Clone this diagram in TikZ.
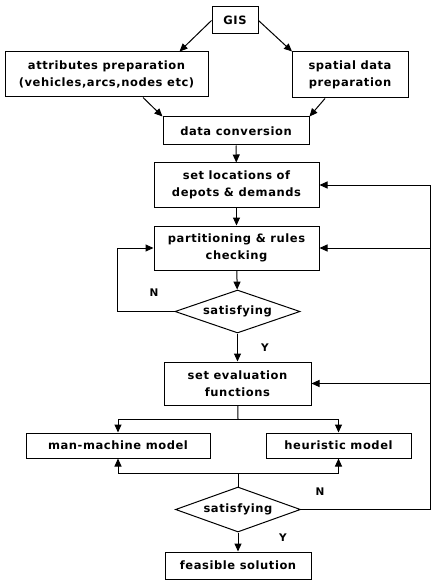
\documentclass[tikz,border=0pt]{standalone}
\usepackage{fontspec}
\setmainfont{DejaVu Sans}[LetterSpace=5]
\usepackage{tikz}
\usetikzlibrary{arrows.meta,positioning,calc,shapes.geometric}

\begin{document}
\begin{tikzpicture}[x=1pt,y=-1pt,>={Triangle[length=8pt,width=7pt]},line width=1pt,
  every node/.style={font=\fontsize{11.5}{16.5}\selectfont\bfseries},
  box/.style={draw,align=center,inner sep=0pt},
  test/.style={draw,diamond,aspect=3,inner sep=0pt,minimum width=125pt,minimum height=43pt},
  lbl/.style={font=\fontsize{10.5}{11}\selectfont\bfseries}]
  \useasboundingbox (0,0) rectangle (436,580);
  % data preparation
  \node[box,minimum width=46pt,minimum height=27pt] (gis) at (235,20.5) {GIS};
  \node[box,minimum width=203pt,minimum height=45pt] (attr) at (106.5,74.5) {attributes preparation\\(vehicles,arcs,nodes etc)};
  \node[box,minimum width=116pt,minimum height=46pt] (spat) at (350,75) {spatial data\\preparation};
  \node[box,minimum width=146pt,minimum height=28pt] (conv) at (236,131) {data conversion};
  % partitioning
  \node[box,minimum width=165pt,minimum height=44pt] (loc) at (236.5,185) {set locations of\\depots \& demands};
  \node[box,minimum width=165pt,minimum height=44pt] (part) at (236.5,248) {partitioning \& rules\\checking};
  \node[test] (sat1) at (237.5,311.5) {satisfying};
  % routing
  \node[box,minimum width=147pt,minimum height=43pt] (eval) at (237.5,383.5) {set evaluation\\functions};
  \node[box,minimum width=184pt,minimum height=25pt] (man) at (118,445.5) {man-machine model};
  \node[box,minimum width=145pt,minimum height=25pt] (heur) at (338.5,445.5) {heuristic model};
  \node[test,minimum height=45pt] (sat2) at (238,509.5) {satisfying};
  \node[box,minimum width=146pt,minimum height=27pt] (feas) at (238,565.5) {feasible solution};
  \coordinate (split) at (238,419);
  \coordinate (merge) at (238,473);
  \coordinate (back) at (430,509.5);

  \draw[->] (gis.west) -- ([xshift=73pt]attr.north);
  \draw[->] (gis.east) -- ([xshift=-58pt]spat.north);
  \draw[->] ([xshift=36.5pt]attr.south) -- (conv.north west);
  \draw[->] ([xshift=-25pt]spat.south) -- (conv.north east);
  \draw[->] (conv) -- (loc);
  \draw[->] (loc) -- (part);
  \draw[->] (part) -- (sat1);
  \draw[->] (sat1.west) -- ++(-57,0) |- (part.west);
  \node[lbl] (n1) at (154,293) {N};
  \draw[->] (sat1) -- (eval);
  \node[lbl] (y1) at (265,348) {Y};
  \draw (eval) -- (split);
  \draw[->] (split) -| (man.north);
  \draw[->] (split) -| (heur.north);
  \draw[->] (merge) -| (man.south);
  \draw[->] (merge) -| (heur.south);
  \draw (merge) -- (sat2.north);
  \draw[->] (sat2) -- (feas);
  \node[lbl] (y2) at (283,538) {Y};
  \draw[->] (sat2.east) -- (back) |- (loc.east);
  \draw[->] (back |- part.east) -- (part.east);
  \draw[->] (back |- eval.east) -- (eval.east);
  \node[lbl] (n2) at (320,492) {N};
\end{tikzpicture}
\end{document}
